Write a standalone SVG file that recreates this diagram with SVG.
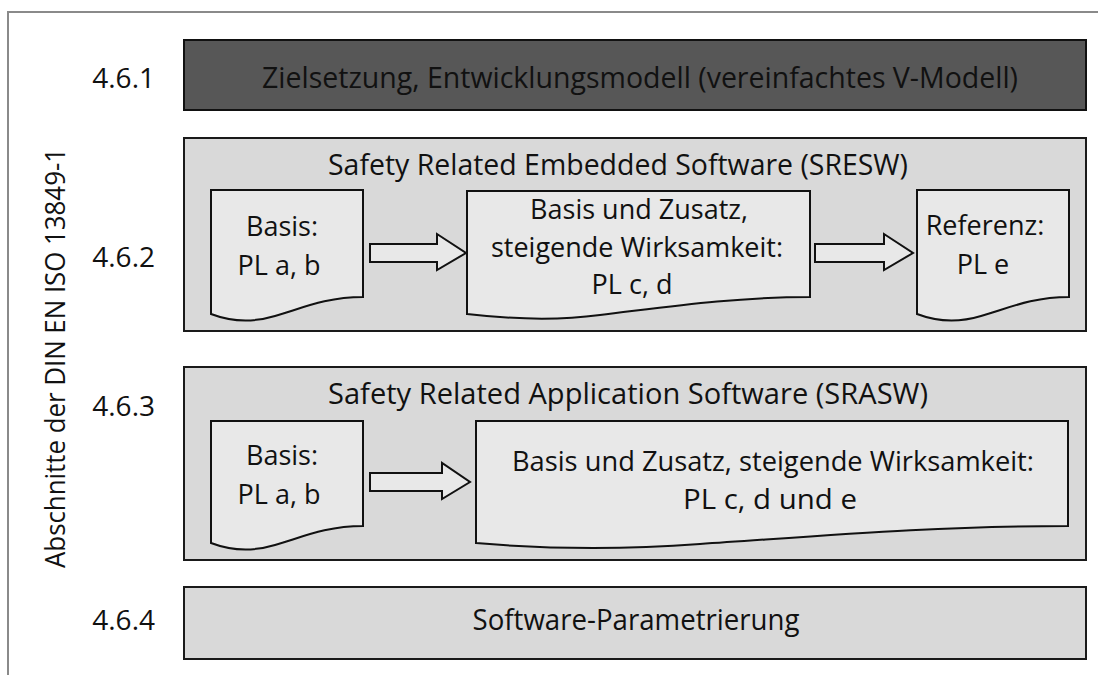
<svg xmlns="http://www.w3.org/2000/svg" width="1098" height="675" viewBox="0 0 1098 675">
<style>
text{font-family:"Open Sans","Noto Sans","Liberation Sans",sans-serif;fill:#111;}
.num{font-size:28px;text-anchor:end;}
.head{font-size:30px;text-anchor:middle;}
.lbl{font-size:27px;text-anchor:middle;}
.sec{fill:#d9d9d9;stroke:#1a1a1a;stroke-width:2;}
.doc{fill:#e8e8e8;stroke:#111;stroke-width:2;}
.arr{fill:#e8e8e8;stroke:#111;stroke-width:2;stroke-linejoin:miter;}
</style>
<rect width="1098" height="675" fill="#fff"/>
<path d="M8,675 V12 H1098" fill="none" stroke="#8a8a8a" stroke-width="2"/>
<text transform="translate(65,358) rotate(-90)" style="font-size:28px;text-anchor:middle" textLength="420" lengthAdjust="spacingAndGlyphs">Abschnitte der DIN EN ISO 13849-1</text>

<g id="s461">
<text class="num" x="155" y="88">4.6.1</text>
<rect x="184" y="40" width="902" height="70" fill="#575757" stroke="#111" stroke-width="2"/>
<text class="head" x="640" y="88" textLength="756" lengthAdjust="spacingAndGlyphs">Zielsetzung, Entwicklungsmodell (vereinfachtes V-Modell)</text>
</g>

<g id="s462">
<text class="num" x="155" y="267">4.6.2</text>
<rect class="sec" x="184" y="138" width="902" height="193"/>
<text class="head" x="618" y="175" textLength="580" lengthAdjust="spacingAndGlyphs">Safety Related Embedded Software (SRESW)</text>
</g>
<g id="d462a">
<path class="doc" d="M211,190 H363 V297 C325,297 300,309 275,316 C255,322 232,322 211,314 Z"/>
<text class="lbl" x="282" y="236">Basis:</text>
<text class="lbl" x="279" y="275">PL a, b</text>
</g>
<g id="d462b">
<path class="doc" d="M467,191 H810 V297 C730,297 660,308 600,315 C555,321 510,319 467,314 Z"/>
<text class="lbl" x="639" y="219">Basis und Zusatz,</text>
<text class="lbl" x="637" y="257" textLength="292" lengthAdjust="spacingAndGlyphs">steigende Wirksamkeit:</text>
<text class="lbl" x="632" y="294">PL c, d</text>
</g>
<g id="d462c">
<path class="doc" d="M917,190 H1069 V297 C1031,297 1006,309 981,316 C961,322 938,322 917,314 Z"/>
<text class="lbl" x="985" y="235">Referenz:</text>
<text class="lbl" x="983" y="274">PL e</text>
</g>

<g id="s463">
<text class="num" x="155" y="416">4.6.3</text>
<rect class="sec" x="184" y="367" width="902" height="193"/>
<text class="head" x="628" y="404" textLength="600" lengthAdjust="spacingAndGlyphs">Safety Related Application Software (SRASW)</text>
</g>
<g id="d463a">
<path class="doc" d="M211,421 H363 V526 C325,526 300,538 275,545 C255,551 232,551 211,543 Z"/>
<text class="lbl" x="282" y="465">Basis:</text>
<text class="lbl" x="279" y="504">PL a, b</text>
</g>
<g id="d463b">
<path class="doc" d="M476,421 H1068 V526 C930,526 820,536 700,544 C620,550 545,549 476,543 Z"/>
<text class="lbl" x="773" y="471" textLength="522" lengthAdjust="spacingAndGlyphs">Basis und Zusatz, steigende Wirksamkeit:</text>
<text class="lbl" x="770" y="509" textLength="174" lengthAdjust="spacingAndGlyphs">PL c, d und e</text>
</g>

<g id="s464">
<text class="num" x="155" y="630">4.6.4</text>
<rect class="sec" x="184" y="587" width="902" height="72"/>
<text class="head" x="636" y="630" textLength="327" lengthAdjust="spacingAndGlyphs">Software-Parametrierung</text>
</g>

<g id="connectors">
<path class="arr" d="M370,244 H437 V234 L466,253 L437,270 V262 H370 Z"/>
<path class="arr" d="M815,244 H884 V234 L913,253 L884,270 V262 H815 Z"/>
<path class="arr" d="M370,473 H442 V463 L470,482 L442,499 V491 H370 Z"/>
</g>
</svg>
